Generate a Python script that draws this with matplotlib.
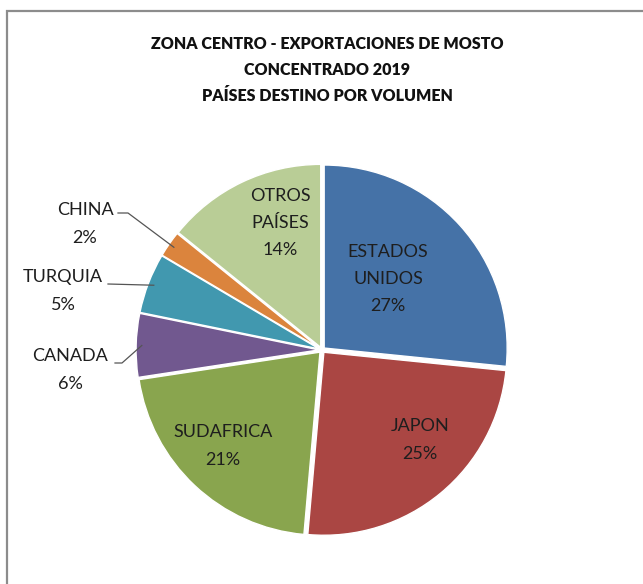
import matplotlib
matplotlib.use("Agg")
import matplotlib.pyplot as plt
from matplotlib.patches import Rectangle
import numpy as np

plt.rcParams['font.family'] = ['Lato', 'DejaVu Sans']

# datos (participacion estimada en volumen, %)
paises = ['ESTADOS\nUNIDOS', 'JAPON', 'SUDAFRICA', 'CANADA', 'TURQUIA', 'CHINA', 'OTROS\nPAÍSES']
participacion = [26.6, 24.8, 21.2, 5.6, 5.3, 2.3, 14.2]
colores = ['#4572A7', '#AA4643', '#89A54E', '#71588F', '#4198AF', '#DB843D', '#B9CD96']
titulo = ['ZONA CENTRO - EXPORTACIONES DE MOSTO', 'CONCENTRADO 2019', 'PAÍSES DESTINO POR VOLUMEN']

W, H = 643, 584
cx, cy, R = 322, 350, 183   # centro y radio en pixeles


def px(x, y):
    # pixel de la imagen -> coordenadas de datos (radio = 1)
    return (x - cx) / R, (cy - y) / R


fig = plt.figure(figsize=(W / 100, H / 100), dpi=100)
ax = fig.add_axes([0, 0, 1, 1])

wedges, _ = ax.pie(participacion, colors=colores, startangle=90, counterclock=False,
                   explode=[0.016] * len(participacion),
                   wedgeprops=dict(edgecolor='white', linewidth=1.0))
ax.set_xlim(-cx / R, (W - cx) / R)
ax.set_ylim(-(H - cy) / R, cy / R)
ax.set_aspect('equal')
ax.axis('off')

total = sum(participacion)
etiquetas = [f'{p}\n{round(v / total * 100)}%' for p, v in zip(paises, participacion)]

# etiquetas dentro (posicion en pixeles del centro del texto)
dentro = {0: (388, 279), 1: (420, 440), 2: (223, 446), 6: (280, 223)}
for i, (x, y) in dentro.items():
    ax.text(*px(x, y), etiquetas[i], ha='center', va='center',
            fontsize=13, color='#1e1e1e', linespacing=1.85)

# etiquetas fuera con lineas guia
fuera = {5: ((85, 224), [(118, 213), (128, 213)]),
         4: ((63, 291), [(108, 284)]),
         3: ((70, 370), [(115, 363), (122, 363)])}
for i, ((x, y), guia) in fuera.items():
    ax.text(*px(x, y), etiquetas[i], ha='center', va='center',
            fontsize=13, color='#1e1e1e', linespacing=1.85)
    w = wedges[i]
    tm = np.deg2rad((w.theta1 + w.theta2) / 2)
    pts = [px(a, b) for a, b in guia] + [(0.985 * np.cos(tm), 0.985 * np.sin(tm))]
    pts = np.array(pts)
    ax.plot(pts[:, 0], pts[:, 1], color='#555555', lw=0.9)

for k, linea in enumerate(titulo):
    fig.text(327 / W, 1 - (44 + 26 * k) / H, linea, ha='center', va='center',
             fontsize=11.5, fontweight='heavy', color='#111111')

# marco del grafico
fig.patches.append(Rectangle((7 / W, -0.1), 1.2, 1.1 - 11 / H, transform=fig.transFigure,
                             fill=False, edgecolor='#8c8c8c', lw=1.6))

fig.savefig('out.png', dpi=100, facecolor='white')
